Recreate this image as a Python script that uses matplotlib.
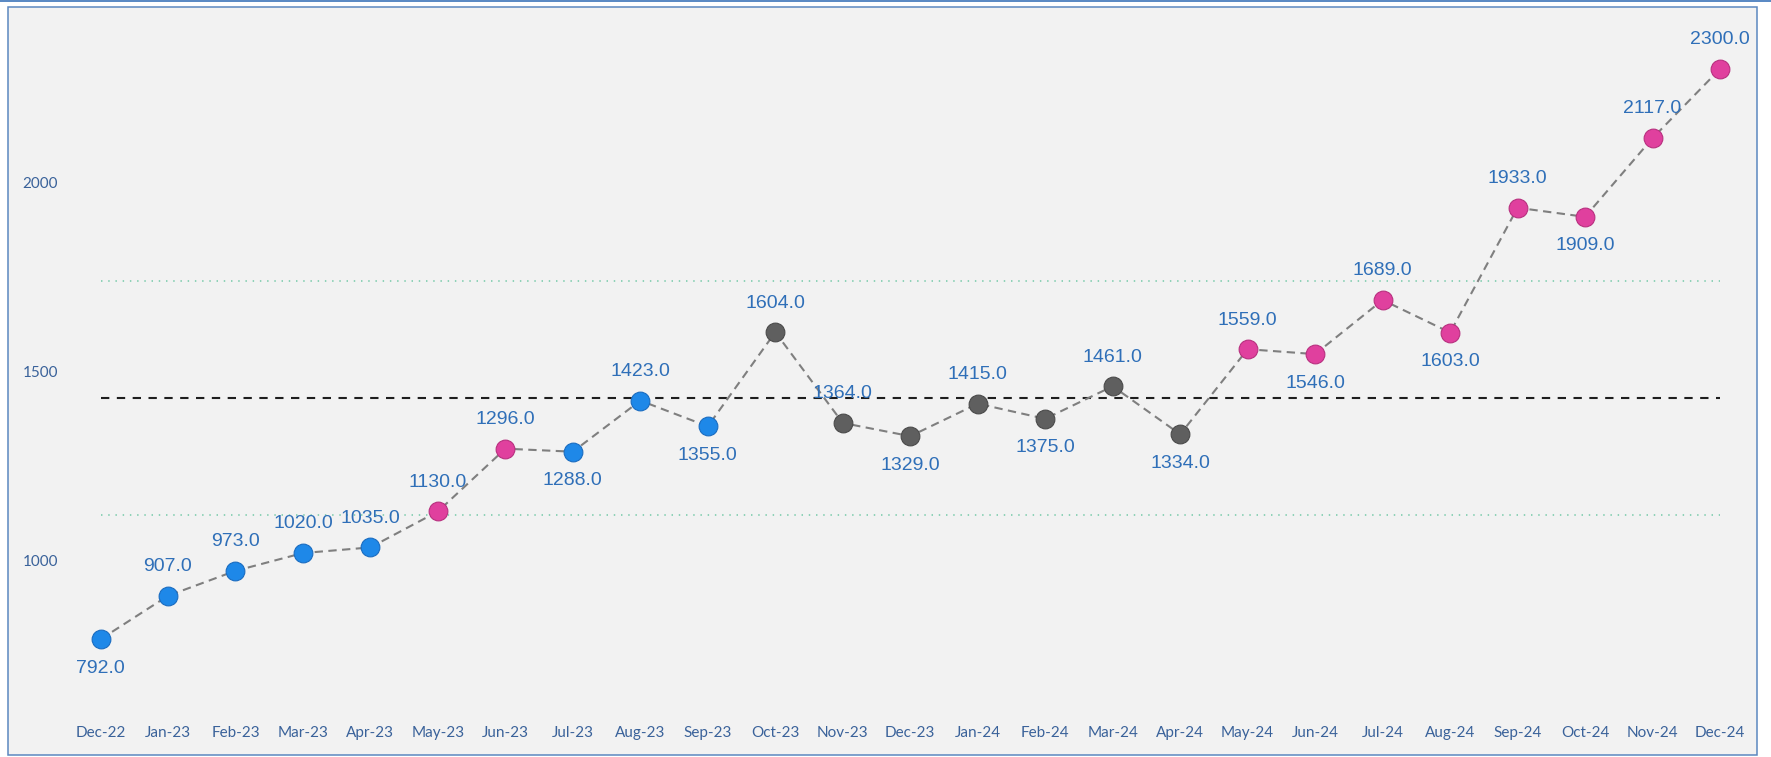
import numpy as np
import matplotlib
matplotlib.use('Agg')
import matplotlib.pyplot as plt
from matplotlib.patches import Rectangle

# monthly values, XmR style
months = ["Dec-22", "Jan-23", "Feb-23", "Mar-23", "Apr-23", "May-23", "Jun-23",
          "Jul-23", "Aug-23", "Sep-23", "Oct-23", "Nov-23", "Dec-23", "Jan-24",
          "Feb-24", "Mar-24", "Apr-24", "May-24", "Jun-24", "Jul-24", "Aug-24",
          "Sep-24", "Oct-24", "Nov-24", "Dec-24"]
values = [792, 907, 973, 1020, 1035, 1130, 1296, 1288, 1423, 1355, 1604, 1364,
          1329, 1415, 1375, 1461, 1334, 1559, 1546, 1689, 1603, 1933, 1909,
          2117, 2300]
# point category: b = baseline, s = signal, n = neutral
groups = ["b", "b", "b", "b", "b", "s", "s", "b", "b", "b", "n", "n", "n",
          "n", "n", "n", "n", "s", "s", "s", "s", "s", "s", "s", "s"]
yticks = [1000, 1500, 2000]

COLORS = {"b": "#1e88e8", "s": "#e0409e", "n": "#5f5f5f"}
EDGES = {"b": "#1a6cc0", "s": "#b8307f", "n": "#4a4a4a"}
LABEL_C = "#2f6fb8"
TICK_C = "#3a629a"

W, H = 1771, 757
fig = plt.figure(figsize=(W / 100, H / 100), dpi=100)
fig.patch.set_facecolor("white")

def fx(px):
    return px / W

def fy(py):
    return 1 - py / H

# panel background + border, thin top rule (behind the axes)
fig.patches.append(Rectangle((fx(8), fy(755)), 1749 / W, 748 / H,
                             transform=fig.transFigure, facecolor="#f2f2f2",
                             edgecolor="#5b87c0", linewidth=1.1, zorder=-2))
fig.add_artist(plt.Line2D([0, 1], [fy(1), fy(1)], transform=fig.transFigure,
                          color="#3b73b9", linewidth=1.2, zorder=-1))

ax = fig.add_axes([fx(64), fy(718), fx(1757) - fx(64), fy(7) - fy(718)])
ax.set_facecolor("none")
for s in ax.spines.values():
    s.set_visible(False)

v = np.array(values, dtype=float)
x = np.arange(len(v))

# centre line and natural process limits
mean = v.mean()
mr = np.abs(np.diff(v)).mean()
upper, lower = mean + 2.66 * mr, mean - 2.66 * mr

ax.hlines(mean, 0, len(v) - 1, colors="#1e1e1e", linewidth=1.5,
          linestyles=(0, (4, 3.6)), zorder=2)
for lim in (upper, lower):
    ax.hlines(lim, 0, len(v) - 1, colors="#86cfb2", linewidth=1.3,
              linestyles=(0, (0.8, 3.2)), zorder=2)

ax.plot(x, v, color="#7f7f7f", linewidth=1.5, linestyle=(0, (4, 2.6)), zorder=3)
for xi, vi, g in zip(x, v, groups):
    ax.plot(xi, vi, marker="o", markersize=13.5, color=COLORS[g],
            markeredgecolor=EDGES[g], markeredgewidth=0.8, zorder=4)

# labels go under local minima, above everything else
for i, vi in enumerate(v):
    prev_hi = i == 0 or v[i - 1] > vi
    next_hi = i == len(v) - 1 or v[i + 1] > vi
    below = prev_hi and next_hi and i != len(v) - 1
    ax.annotate(f"{vi:.1f}", (i, vi), xytext=(0, -21 if below else 21),
                textcoords="offset points", ha="center", va="center",
                fontsize=14, color=LABEL_C, family="Liberation Sans", zorder=5)

ax.set_xlim(-0.541, 24.548)
ax.set_ylim(583.9, 2463.8)
ax.set_xticks(x)
ax.set_xticklabels(months)
ax.set_yticks(yticks)
ax.tick_params(axis="both", length=0, labelsize=11, labelcolor=TICK_C)
ax.tick_params(axis="x", pad=6)
ax.tick_params(axis="y", pad=4.3)
for lab in ax.get_xticklabels() + ax.get_yticklabels():
    lab.set_family("Lato")

fig.savefig("out.png", dpi=100, facecolor=fig.get_facecolor())
